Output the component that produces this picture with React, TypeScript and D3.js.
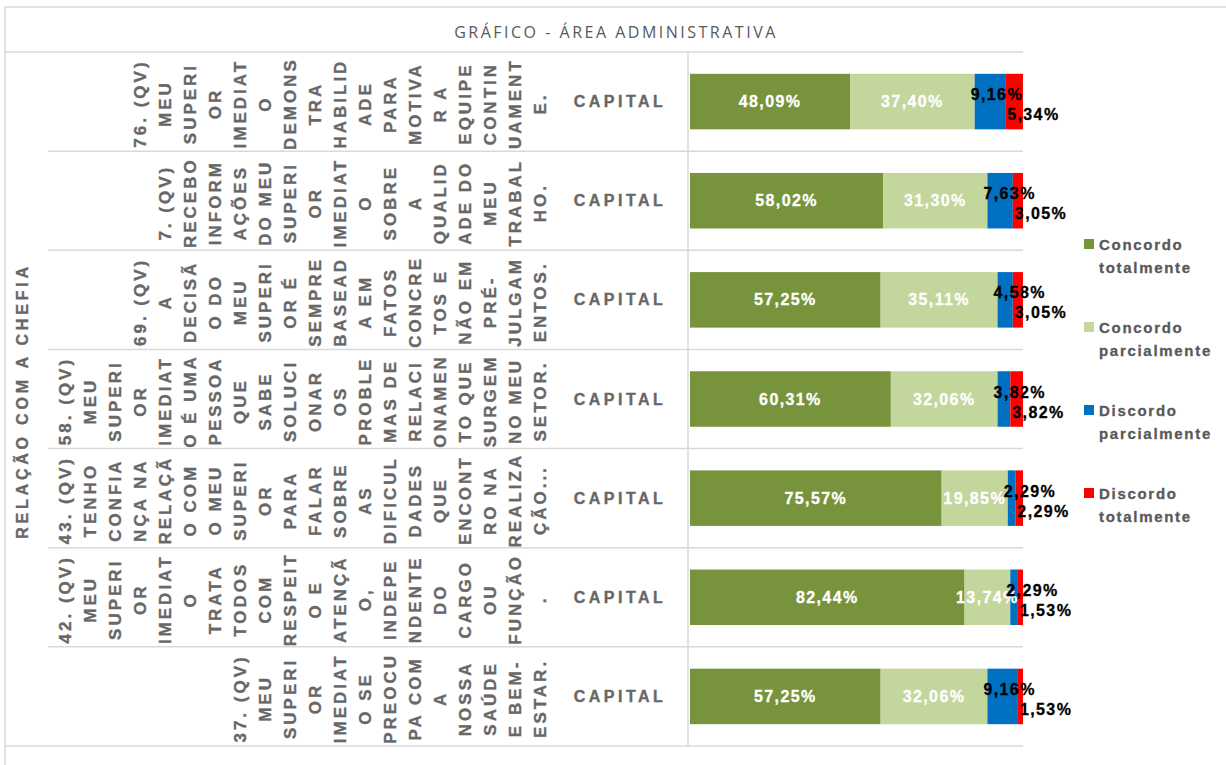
import React, { useEffect, useRef } from "react";
import * as d3 from "d3";

// ---------- DATA ----------
const chartTitle = "GRÁFICO - ÁREA ADMINISTRATIVA";
const groupLabel = "RELAÇÃO COM A CHEFIA";
const subLabel = "CAPITAL";

// category labels, already wrapped as in the original picture
const categoryLines: string[][] = [
  ["76. (QV)", "MEU", "SUPERI", "OR", "IMEDIAT", "O", "DEMONS", "TRA", "HABILID", "ADE", "PARA", "MOTIVA", "R A", "EQUIPE", "CONTIN", "UAMENT", "E."],
  ["7. (QV)", "RECEBO", "INFORM", "AÇÕES", "DO MEU", "SUPERI", "OR", "IMEDIAT", "O", "SOBRE", "A", "QUALID", "ADE DO", "MEU", "TRABAL", "HO."],
  ["69. (QV)", "A", "DECISÃ", "O DO", "MEU", "SUPERI", "OR É", "SEMPRE", "BASEAD", "A EM", "FATOS", "CONCRE", "TOS E", "NÃO EM", "PRÉ-", "JULGAM", "ENTOS."],
  ["58. (QV)", "MEU", "SUPERI", "OR", "IMEDIAT", "O É UMA", "PESSOA", "QUE", "SABE", "SOLUCI", "ONAR", "OS", "PROBLE", "MAS DE", "RELACI", "ONAMEN", "TO QUE", "SURGEM", "NO MEU", "SETOR."],
  ["43. (QV)", "TENHO", "CONFIA", "NÇA NA", "RELAÇÃ", "O COM", "O MEU", "SUPERI", "OR", "PARA", "FALAR", "SOBRE", "AS", "DIFICUL", "DADES", "QUE", "ENCONT", "RO NA", "REALIZA", "ÇÃO..."],
  ["42. (QV)", "MEU", "SUPERI", "OR", "IMEDIAT", "O", "TRATA", "TODOS", "COM", "RESPEIT", "O E", "ATENÇÃ", "O,", "INDEPE", "NDENTE", "DO", "CARGO", "OU", "FUNÇÃO", "."],
  ["37. (QV)", "MEU", "SUPERI", "OR", "IMEDIAT", "O SE", "PREOCU", "PA COM", "A", "NOSSA", "SAÚDE", "E BEM-", "ESTAR."],
];

const seriesNames = ["Concordo totalmente", "Concordo parcialmente", "Discordo parcialmente", "Discordo totalmente"];
const legendLines = [["Concordo", "totalmente"], ["Concordo", "parcialmente"], ["Discordo", "parcialmente"], ["Discordo", "totalmente"]];
const concordoTotalmente = [48.09, 58.02, 57.25, 60.31, 75.57, 82.44, 57.25];
const concordoParcialmente = [37.4, 31.3, 35.11, 32.06, 19.85, 13.74, 32.06];
const discordoParcialmente = [9.16, 7.63, 4.58, 3.82, 2.29, 2.29, 9.16];
const discordoTotalmente = [5.34, 3.05, 3.05, 3.82, 2.29, 1.53, 1.53];
const seriesColors = ["#77933C", "#C3D69B", "#0070C0", "#FF0000"];

// ---------- LAYOUT ----------
const W = 1226;
const H = 765;
const FONT = "'Liberation Sans', Arial, Helvetica, sans-serif";

export default function App() {
  const ref = useRef<SVGSVGElement>(null);

  useEffect(() => {
    const svg = d3.select(ref.current);
    svg.selectAll("*").remove();

    const rows = categoryLines.map((_, i) => ({
      idx: i,
      [seriesNames[0]]: concordoTotalmente[i],
      [seriesNames[1]]: concordoParcialmente[i],
      [seriesNames[2]]: discordoParcialmente[i],
      [seriesNames[3]]: discordoTotalmente[i],
    }));

    const y = d3.scaleBand<number>().domain(d3.range(rows.length)).range([52, 746]);
    const x = d3.scaleLinear().domain([0, 100]).range([690, 1023]);
    const barH = y.bandwidth() * 0.56;
    const gridColor = "#d9d9d9";
    const textGray = "#676767";

    // frame
    const frame = svg.append("g").attr("stroke", gridColor).attr("stroke-width", 1.5).attr("fill", "none");
    frame.append("line").attr("x1", 5).attr("x2", W).attr("y1", 7).attr("y2", 7);
    frame.append("line").attr("x1", 5).attr("x2", 5).attr("y1", 7).attr("y2", H);
    frame.append("line").attr("x1", 5).attr("x2", x(100)).attr("y1", 52).attr("y2", 52);
    frame.append("line").attr("x1", 5).attr("x2", x(100)).attr("y1", 746).attr("y2", 746);
    // row separators
    d3.range(1, rows.length).forEach((i) => {
      frame.append("line").attr("x1", 48).attr("x2", x(100)).attr("y1", y(i)!).attr("y2", y(i)!);
    });
    // value axis line
    frame.append("line").attr("x1", 688).attr("x2", 688).attr("y1", 52).attr("y2", 746);

    // title
    svg.append("text")
      .attr("x", 616).attr("y", 32)
      .attr("text-anchor", "middle").attr("dominant-baseline", "central")
      .attr("font-family", "'Open Sans', 'Noto Sans', sans-serif")
      .attr("font-size", 16).attr("letter-spacing", 2.5)
      .attr("fill", "#595959")
      .text(chartTitle);

    // group label
    const gy = (52 + 746) / 2 + 2;
    svg.append("text")
      .attr("transform", `translate(22,${gy}) rotate(-90)`)
      .attr("text-anchor", "middle").attr("dominant-baseline", "central")
      .attr("font-family", FONT).attr("font-weight", "bold")
      .attr("font-size", 16).attr("letter-spacing", 3.8)
      .attr("fill", textGray).attr("stroke", textGray).attr("stroke-width", 0.35)
      .text(groupLabel);

    // category labels (vertical wrapped lines, right aligned toward x=540)
    const labelRight = 540;
    const lineStep = 25;
    categoryLines.forEach((lines, r) => {
      const cy = y(r)! + y.bandwidth() / 2 + 2;
      const n = lines.length;
      lines.forEach((ln, i) => {
        const lx = labelRight - (n - 1 - i) * lineStep;
        svg.append("text")
          .attr("transform", `translate(${lx},${cy}) rotate(-90)`)
          .attr("text-anchor", "middle").attr("dominant-baseline", "central")
          .attr("font-family", FONT).attr("font-weight", "bold")
          .attr("font-size", 17).attr("letter-spacing", 3)
          .attr("fill", textGray).attr("stroke", textGray).attr("stroke-width", 0.35)
          .text(ln);
      });
      svg.append("text")
        .attr("x", 620).attr("y", y(r)! + y.bandwidth() / 2)
        .attr("text-anchor", "middle").attr("dominant-baseline", "central")
        .attr("font-family", FONT).attr("font-weight", "bold")
        .attr("font-size", 16).attr("letter-spacing", 3.5)
        .attr("fill", textGray).attr("stroke", textGray).attr("stroke-width", 0.35)
        .text(subLabel);
    });

    // bars
    const stack = d3.stack<any>().keys(seriesNames);
    const series = stack(rows);
    const fmt = (v: number) => v.toFixed(2).replace(".", ",") + "%";

    series.forEach((s, si) => {
      const g = svg.append("g");
      s.forEach((d, r) => {
        const cy = y(r)! + y.bandwidth() / 2;
        g.append("rect")
          .attr("x", x(d[0])).attr("width", x(d[1]) - x(d[0]))
          .attr("y", cy - barH / 2).attr("height", barH)
          .attr("fill", seriesColors[si]);
      });
    });

    // labels
    series.forEach((s, si) => {
      s.forEach((d, r) => {
        const cy = y(r)! + y.bandwidth() / 2;
        const v = d[1] - d[0];
        const col = si < 2 ? "#ffffff" : "#000000";
        const t = svg.append("text")
          .attr("font-family", FONT).attr("font-weight", "bold")
          .attr("font-size", 16).attr("letter-spacing", 1.4)
          .attr("dominant-baseline", "central")
          .attr("fill", col).attr("stroke", col).attr("stroke-width", 0.3)
          .text(fmt(v));
        if (si < 2) {
          t.attr("x", (x(d[0]) + x(d[1])) / 2).attr("y", cy)
            .attr("text-anchor", "middle");
        } else if (si === 2) {
          t.attr("x", x(d[0]) - 4).attr("y", cy - 7)
            .attr("text-anchor", "start");
        } else {
          t.attr("x", x(d[0]) + 2).attr("y", cy + 13)
            .attr("text-anchor", "start");
        }
      });
    });

    // legend
    const lg = svg.append("g");
    legendLines.forEach((lns, i) => {
      const ly = 244 + i * 83;
      lg.append("rect").attr("x", 1084).attr("y", ly - 5).attr("width", 10).attr("height", 10).attr("fill", seriesColors[i]);
      lns.forEach((ln, j) => {
        lg.append("text")
          .attr("x", 1099).attr("y", ly + j * 23)
          .attr("dominant-baseline", "central")
          .attr("font-family", FONT).attr("font-weight", "bold")
          .attr("font-size", 15).attr("letter-spacing", 1.7)
          .attr("fill", "#595959").attr("stroke", "#595959").attr("stroke-width", 0.3)
          .text(ln);
      });
    });
  }, []);

  return (
    <div style={{ position: "absolute", left: 0, top: 0 }}>
      <svg ref={ref} width={W} height={H} style={{ display: "block", background: "#ffffff" }} />
    </div>
  );
}
